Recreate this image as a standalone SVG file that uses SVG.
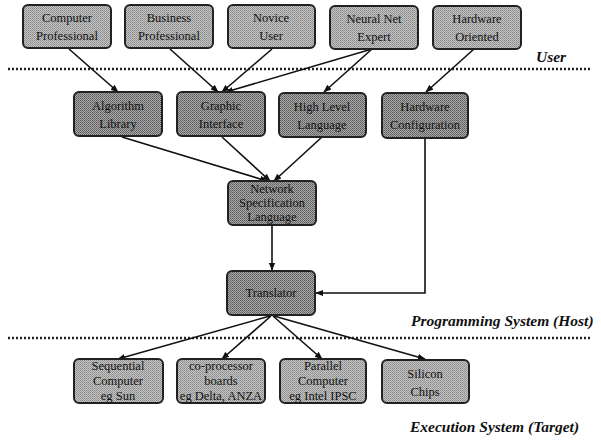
<svg xmlns="http://www.w3.org/2000/svg" width="601" height="440" viewBox="0 0 601 440">
  <defs>
    <!-- halftone-style grey fills -->
    <pattern id="toneLight" width="2" height="2" patternUnits="userSpaceOnUse">
      <rect width="2" height="2" fill="#c4c4c4"/>
      <rect width="1" height="1" fill="#8a8a8a"/>
      <rect x="1" y="1" width="1" height="1" fill="#9a9a9a"/>
    </pattern>
    <pattern id="toneDark" width="2" height="2" patternUnits="userSpaceOnUse">
      <rect width="2" height="2" fill="#a8a8a8"/>
      <rect width="1" height="1" fill="#5e5e5e"/>
      <rect x="1" y="1" width="1" height="1" fill="#6e6e6e"/>
    </pattern>
    <marker id="arrow" viewBox="0 0 10 10" refX="9" refY="5" markerWidth="8" markerHeight="8" orient="auto" markerUnits="userSpaceOnUse">
      <path d="M0,1 L10,5 L0,9 Z" fill="#111"/>
    </marker>
  </defs>
  <style>
    .box { stroke: #222; stroke-width: 2; }
    .light { fill: url(#toneLight); }
    .dark { fill: url(#toneDark); }
    .lbl { font-family: "Liberation Serif", "DejaVu Serif", serif; font-size: 12.5px; fill: #111; text-anchor: middle; }
    .layer { font-family: "Liberation Serif", "DejaVu Serif", serif; font-size: 15.5px; font-weight: bold; font-style: italic; fill: #111; }
    .sep { stroke: #222; stroke-width: 2.5; stroke-dasharray: 2 2; fill: none; }
    .edge { stroke: #111; stroke-width: 1.6; fill: none; marker-end: url(#arrow); }
  </style>

  <rect width="601" height="440" fill="#ffffff"/>

  <!-- layer separators -->
  <line class="sep" x1="8" y1="69" x2="591" y2="69"/>
  <line class="sep" x1="8" y1="338" x2="591" y2="338"/>
  <text class="layer" x="536" y="62">User</text>
  <text class="layer" x="411" y="326">Programming System (Host)</text>
  <text class="layer" x="410" y="432">Execution System (Target)</text>

  <!-- connectors -->
  <g id="connectors">
    <line class="edge" x1="69" y1="49" x2="118" y2="92"/>
    <line class="edge" x1="170" y1="49" x2="218" y2="92"/>
    <line class="edge" x1="272" y1="49" x2="222" y2="92"/>
    <line class="edge" x1="372" y1="49" x2="226" y2="92"/>
    <line class="edge" x1="372" y1="49" x2="324" y2="92"/>
    <line class="edge" x1="474" y1="49" x2="426" y2="92"/>
    <line class="edge" x1="122" y1="137" x2="267" y2="181"/>
    <line class="edge" x1="222" y1="137" x2="270" y2="181"/>
    <line class="edge" x1="322" y1="137" x2="274" y2="181"/>
    <line class="edge" x1="272" y1="226" x2="272" y2="270"/>
    <polyline class="edge" points="425,139 425,293 316,293"/>
    <line class="edge" x1="270" y1="316" x2="118" y2="359"/>
    <line class="edge" x1="271" y1="316" x2="222" y2="359"/>
    <line class="edge" x1="273" y1="316" x2="322" y2="359"/>
    <line class="edge" x1="274" y1="316" x2="425" y2="359"/>
  </g>

  <!-- user row -->
  <g id="computer-professional">
    <rect class="box light" x="23" y="5" width="88" height="43" rx="5"/>
    <text class="lbl" x="67" y="22">Computer</text>
    <text class="lbl" x="67" y="40">Professional</text>
  </g>
  <g id="business-professional">
    <rect class="box light" x="125" y="5" width="88" height="43" rx="5"/>
    <text class="lbl" x="169" y="22">Business</text>
    <text class="lbl" x="169" y="40">Professional</text>
  </g>
  <g id="novice-user">
    <rect class="box light" x="228" y="5" width="87" height="43" rx="5"/>
    <text class="lbl" x="271" y="22">Novice</text>
    <text class="lbl" x="271" y="40">User</text>
  </g>
  <g id="neural-net-expert">
    <rect class="box light" x="330" y="6" width="88" height="43" rx="5"/>
    <text class="lbl" x="374" y="23">Neural Net</text>
    <text class="lbl" x="374" y="41">Expert</text>
  </g>
  <g id="hardware-oriented">
    <rect class="box light" x="433" y="6" width="88" height="43" rx="5"/>
    <text class="lbl" x="477" y="23">Hardware</text>
    <text class="lbl" x="477" y="41">Oriented</text>
  </g>

  <!-- programming tools row -->
  <g id="algorithm-library">
    <rect class="box dark" x="74" y="92" width="88" height="44" rx="5"/>
    <text class="lbl" x="118" y="110">Algorithm</text>
    <text class="lbl" x="118" y="128">Library</text>
  </g>
  <g id="graphic-interface">
    <rect class="box dark" x="177" y="92" width="88" height="44" rx="5"/>
    <text class="lbl" x="221" y="110">Graphic</text>
    <text class="lbl" x="221" y="128">Interface</text>
  </g>
  <g id="high-level-language">
    <rect class="box dark" x="279" y="93" width="87" height="44" rx="5"/>
    <text class="lbl" x="322" y="111">High Level</text>
    <text class="lbl" x="322" y="129">Language</text>
  </g>
  <g id="hardware-configuration">
    <rect class="box dark" x="382" y="93" width="86" height="45" rx="5"/>
    <text class="lbl" x="425" y="111">Hardware</text>
    <text class="lbl" x="425" y="129">Configuration</text>
  </g>

  <g id="network-specification-language">
    <rect class="box dark" x="228" y="181" width="88" height="44" rx="5"/>
    <text class="lbl" x="272" y="193">Network</text>
    <text class="lbl" x="272" y="207">Specification</text>
    <text class="lbl" x="272" y="221">Language</text>
  </g>
  <g id="translator">
    <rect class="box dark" x="227" y="271" width="88" height="44" rx="5"/>
    <text class="lbl" x="271" y="297">Translator</text>
  </g>

  <!-- execution targets row -->
  <g id="sequential-computer">
    <rect class="box light" x="74" y="359" width="89" height="44" rx="5"/>
    <text class="lbl" x="118" y="370">Sequential</text>
    <text class="lbl" x="118" y="385">Computer</text>
    <text class="lbl" x="118" y="400">eg Sun</text>
  </g>
  <g id="co-processor-boards">
    <rect class="box light" x="177" y="359" width="88" height="44" rx="5"/>
    <text class="lbl" x="221" y="370">co-processor</text>
    <text class="lbl" x="221" y="385">boards</text>
    <text class="lbl" x="221" y="400">eg Delta, ANZA</text>
  </g>
  <g id="parallel-computer">
    <rect class="box light" x="280" y="359" width="86" height="44" rx="5"/>
    <text class="lbl" x="323" y="370">Parallel</text>
    <text class="lbl" x="323" y="385">Computer</text>
    <text class="lbl" x="323" y="400">eg Intel IPSC</text>
  </g>
  <g id="silicon-chips">
    <rect class="box light" x="382" y="360" width="87" height="43" rx="5"/>
    <text class="lbl" x="425" y="378">Silicon</text>
    <text class="lbl" x="425" y="396">Chips</text>
  </g>
</svg>
